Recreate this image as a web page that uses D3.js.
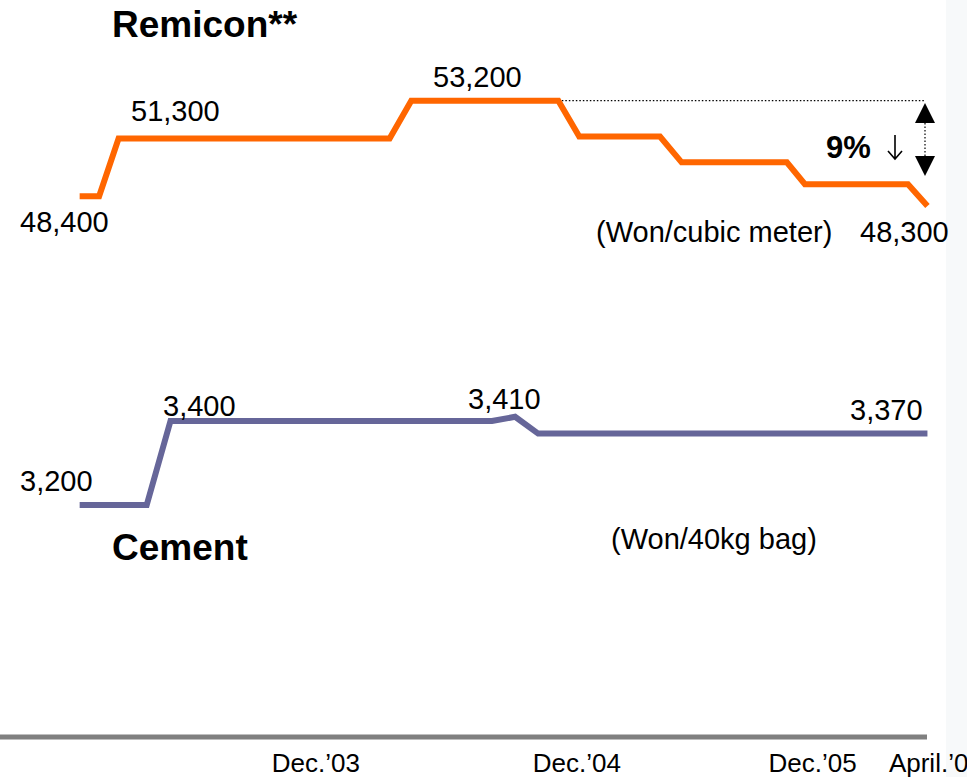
<!DOCTYPE html>
<html>
<head>
<meta charset="utf-8">
<script src="https://cdn.jsdelivr.net/npm/d3@7"></script>
<style>
  body { margin: 0; background: #fff; }
  svg { display: block; font-family: Arial, "Liberation Sans", sans-serif; }
</style>
</head>
<body>
<script>
// Remicon price (Won/cubic meter)
var remiconDates = ['2003-01-13','2003-02-09','2003-03-08','2004-03-18','2004-04-17','2004-11-07',
                    '2004-12-06','2005-03-28','2005-04-27','2005-09-20','2005-10-15','2006-03-07','2006-04-03'];
var remiconValues = [48400, 48400, 51300, 51300, 53200, 53200, 51400, 51400, 50100, 50100, 49000, 49000, 47900];

// Cement price (Won/40kg bag)
var cementDates = ['2003-01-13','2003-04-16','2003-05-19','2004-08-07','2004-09-08','2004-10-10','2006-04-03'];
var cementValues = [3200, 3200, 3400, 3400, 3410, 3370, 3370];

// labelled points
var remiconLabels = ['48,400', '51,300', '53,200', '48,300'];
var cementLabels = ['3,200', '3,400', '3,410', '3,370'];

// x axis labels
var tickDates = ['2003-12-06', '2004-12-02', '2005-10-25', '2006-04-14'];
var tickLabels = ["Dec.\u201903", "Dec.\u201904", "Dec.\u201905", "April.\u201906"];

var w = 967, h = 777;
var parse = d3.timeParse('%Y-%m-%d');

var svg = d3.select('body').append('svg')
  .attr('width', w)
  .attr('height', h);

// faint slide edge on the right
svg.append('rect')
  .attr('x', 946).attr('y', 0).attr('width', 21).attr('height', h)
  .attr('fill', '#f7f9fa');

var x = d3.scaleTime()
  .domain([parse('2003-01-01'), parse('2006-04-01')])
  .range([71, 926]);

var yR = d3.scaleLinear().domain([48000, 53200]).range([204.1, 100.7]);
var yC = d3.scaleLinear().domain([3200, 3410]).range([505, 416.8]);

var remicon = remiconDates.map(function(d, i) { return { date: parse(d), value: remiconValues[i] }; });
var cement = cementDates.map(function(d, i) { return { date: parse(d), value: cementValues[i] }; });

var lineR = d3.line().x(function(d) { return x(d.date); }).y(function(d) { return yR(d.value); });
var lineC = d3.line().x(function(d) { return x(d.date); }).y(function(d) { return yC(d.value); });

// dotted reference at the peak
svg.append('line')
  .attr('x1', x(remicon[5].date)).attr('x2', 925)
  .attr('y1', yR(53200)).attr('y2', yR(53200))
  .attr('stroke', '#000').attr('stroke-width', 1.2)
  .attr('stroke-dasharray', '1.5,2');

svg.append('path')
  .datum(remicon)
  .attr('d', lineR)
  .attr('fill', 'none')
  .attr('stroke', '#ff6600')
  .attr('stroke-width', 6);

svg.append('path')
  .datum(cement)
  .attr('d', lineC)
  .attr('fill', 'none')
  .attr('stroke', '#666699')
  .attr('stroke-width', 6);

// double arrow for the 9% drop
var ax = 925;
svg.append('path').attr('d', 'M' + ax + ',103 L' + (ax + 10) + ',123 L' + (ax - 10) + ',123 Z').attr('fill', '#000');
svg.append('path').attr('d', 'M' + ax + ',176 L' + (ax + 10) + ',156 L' + (ax - 10) + ',156 Z').attr('fill', '#000');
svg.append('line')
  .attr('x1', ax).attr('x2', ax).attr('y1', 123).attr('y2', 156)
  .attr('stroke', '#000').attr('stroke-width', 1.2)
  .attr('stroke-dasharray', '1.5,2');

// small down arrow next to 9%
svg.append('path')
  .attr('d', 'M895,135 L895,159 M888,151 L895,159 L902,151')
  .attr('fill', 'none')
  .attr('stroke', '#000')
  .attr('stroke-width', 1.6);

function txt(s, xx, yy, size, weight, anchor) {
  return svg.append('text')
    .attr('x', xx).attr('y', yy)
    .attr('font-size', size)
    .attr('font-weight', weight || 'normal')
    .attr('text-anchor', anchor || 'start')
    .attr('fill', '#000')
    .text(s);
}

txt('Remicon**', 112, 37, 37, 'bold');
txt('Cement', 112, 560, 37, 'bold');
txt('9%', 826, 158, 31, 'bold');

// value labels
txt(remiconLabels[0], 20, 232, 29);
txt(remiconLabels[1], 131, 121, 29);
txt(remiconLabels[2], 433, 87, 29);
txt(remiconLabels[3], 860, 242, 29);
txt('(Won/cubic meter)', 596, 242, 29);

txt(cementLabels[0], 20, 491, 29);
txt(cementLabels[1], 163, 416, 29);
txt(cementLabels[2], 468, 409, 29);
txt(cementLabels[3], 850, 420, 29);
txt('(Won/40kg bag)', 611, 549, 29);

// bottom axis
var xAxis = d3.axisBottom(x)
  .tickValues(tickDates.map(parse))
  .tickFormat(function(d, i) { return tickLabels[i]; })
  .tickSize(0)
  .tickPadding(0);

var gx = svg.append('g')
  .attr('transform', 'translate(0,737)')
  .call(xAxis);
gx.select('.domain').remove();
gx.insert('line', ':first-child')
  .attr('x1', 0).attr('x2', 927).attr('y1', 0).attr('y2', 0)
  .attr('stroke', '#808080').attr('stroke-width', 5);
gx.selectAll('text')
  .attr('dy', null)
  .attr('y', 35)
  .attr('font-size', 26)
  .attr('font-family', 'Arial, "Liberation Sans", sans-serif')
  .attr('fill', '#000');
</script>
</body>
</html>
